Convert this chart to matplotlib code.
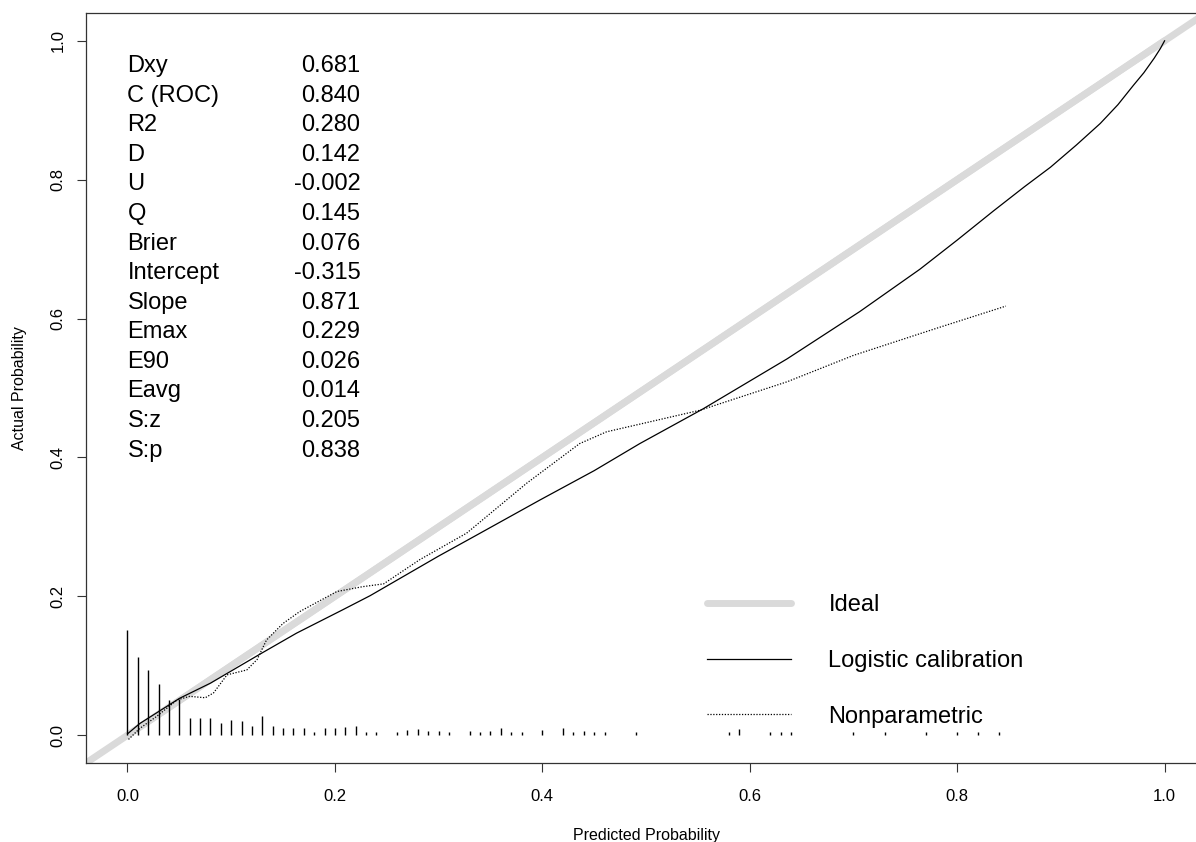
import numpy as np
import matplotlib
matplotlib.use("Agg")
import matplotlib.pyplot as plt

plt.rcParams['font.family'] = ['Liberation Sans', 'DejaVu Sans']

# statistics block
stat_names = ["Dxy", "C (ROC)", "R2", "D", "U", "Q", "Brier", "Intercept",
              "Slope", "Emax", "E90", "Eavg", "S:z", "S:p"]
stat_vals = ["0.681", "0.840", "0.280", "0.142", "-0.002", "0.145", "0.076",
             "-0.315", "0.871", "0.229", "0.026", "0.014", "0.205", "0.838"]

# logistic calibration curve
logit_p = [0.0, 0.012, 0.05, 0.08, 0.128, 0.163, 0.208, 0.234, 0.3, 0.334, 0.398,
           0.45, 0.494, 0.555, 0.6, 0.636, 0.706, 0.764, 0.80, 0.835, 0.865,
           0.89, 0.915, 0.938, 0.955, 0.97, 0.98, 0.99, 0.996, 1.0]
logit_y = [0.002, 0.017, 0.053, 0.075, 0.117, 0.147, 0.181, 0.201, 0.258, 0.286, 0.339,
           0.381, 0.420, 0.470, 0.510, 0.542, 0.610, 0.671, 0.713, 0.755, 0.790,
           0.818, 0.850, 0.881, 0.908, 0.936, 0.954, 0.975, 0.989, 1.0]

# nonparametric (loess) curve
np_p = [0.001, 0.012, 0.028, 0.048, 0.060, 0.075, 0.083, 0.096, 0.115, 0.125,
        0.134, 0.150, 0.166, 0.202, 0.227, 0.247, 0.282, 0.327, 0.385, 0.436,
        0.462, 0.494, 0.552, 0.636, 0.700, 0.780, 0.847]
np_y = [-0.006, 0.010, 0.027, 0.051, 0.056, 0.054, 0.061, 0.087, 0.094, 0.109,
        0.137, 0.161, 0.178, 0.207, 0.214, 0.218, 0.253, 0.291, 0.363, 0.420,
        0.437, 0.448, 0.468, 0.509, 0.547, 0.586, 0.618]

# spike histogram of predicted probabilities
spike_x = [0.00, 0.01, 0.02, 0.03, 0.04, 0.05, 0.06, 0.07, 0.08, 0.09, 0.10,
           0.11, 0.12, 0.13, 0.14, 0.15, 0.16, 0.17, 0.18, 0.19, 0.20, 0.21,
           0.22, 0.23, 0.24, 0.26, 0.27, 0.28, 0.29, 0.30, 0.31, 0.33, 0.34,
           0.35, 0.36, 0.37, 0.38, 0.40, 0.42, 0.43, 0.44, 0.45, 0.46, 0.49,
           0.58, 0.59, 0.62, 0.63, 0.64, 0.70, 0.73, 0.77, 0.80, 0.82, 0.84]
spike_h = [0.151, 0.113, 0.094, 0.074, 0.051, 0.052, 0.025, 0.025, 0.025, 0.018,
           0.022, 0.020, 0.014, 0.027, 0.014, 0.010, 0.010, 0.010, 0.005, 0.010,
           0.011, 0.012, 0.014, 0.005, 0.005, 0.004, 0.007, 0.009, 0.006, 0.006,
           0.004, 0.006, 0.004, 0.006, 0.010, 0.004, 0.004, 0.007, 0.010, 0.004,
           0.006, 0.004, 0.004, 0.004, 0.004, 0.009, 0.004, 0.004, 0.004, 0.004,
           0.004, 0.004, 0.004, 0.004, 0.004]

ticks = [0.0, 0.2, 0.4, 0.6, 0.8, 1.0]

fig = plt.figure(figsize=(11.96, 8.42), dpi=100)
ax = fig.add_axes([0.0719, 0.0938, 0.9365, 0.8907])

ideal, = ax.plot([0, 1], [0, 1], color='#dadada', lw=5, solid_capstyle='round')
ax.axline((0, 0), (1, 1), color='#dadada', lw=5)
logi, = ax.plot(logit_p, logit_y, color='black', lw=0.9)
nonp, = ax.plot(np_p, np_y, color='black', lw=0.9, linestyle=(0, (1, 1.3)))
ax.vlines(spike_x, 0, spike_h, color='black', lw=1)

ax.set_xlim(-0.04, 1.04)
ax.set_ylim(-0.04, 1.04)
ax.set_xticks(ticks)
ax.set_yticks(ticks)
ax.set_xticklabels([f"{t:.1f}" for t in ticks])
ax.set_yticklabels([f"{t:.1f}" for t in ticks], rotation=90, va='center')
ax.tick_params(length=6.5, width=0.8, labelsize=12, color='#333333')
ax.tick_params(axis='x', pad=12)
ax.tick_params(axis='y', pad=8)
for s in ax.spines.values():
    s.set_linewidth(0.9)
    s.set_color('#333333')

ax.set_xlabel("Predicted Probability", fontsize=11.5)
ax.xaxis.label.set_va('baseline')
ax.xaxis.set_label_coords(0.5, -0.1027)
ax.set_ylabel("Actual Probability", fontsize=11.5)
ax.yaxis.label.set_va('center')
ax.yaxis.set_label_coords(-0.0595, 0.5)

# stats text
for i, (n, v) in enumerate(zip(stat_names, stat_vals)):
    yb = 0.955 - 0.0426 * i
    ax.text(0.0, yb, n, fontsize=17, va='baseline', ha='left')
    ax.text(0.2245, yb, v, fontsize=17, va='baseline', ha='right')

ax.legend([ideal, logi, nonp], ["Ideal", "Logistic calibration", "Nonparametric"],
          loc='upper left', bbox_to_anchor=(0.591, 0.294),
          bbox_transform=fig.transFigure, frameon=False, fontsize=17,
          borderpad=0, borderaxespad=0, handlelength=3.55, handletextpad=1.6,
          labelspacing=1.42)

fig.savefig("out.png", dpi=100)
